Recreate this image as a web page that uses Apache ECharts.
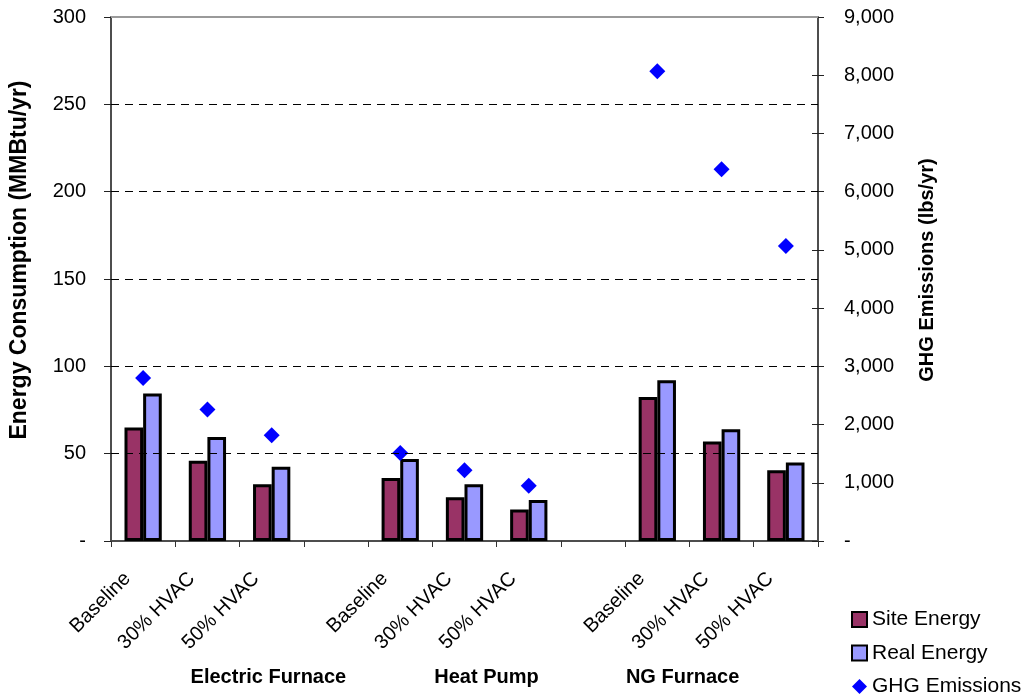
<!DOCTYPE html>
<html>
<head>
<meta charset="utf-8">
<script src="https://cdn.jsdelivr.net/npm/echarts@6/dist/echarts.min.js"></script>
<style>
  html, body { margin: 0; padding: 0; background: #fff; }
  #chart { width: 1029px; height: 700px; }
</style>
</head>
<body>
<div id="chart"></div>
<script>
// Scenario labels along the category axis (empty slots separate the three systems)
const categories = ['Baseline', '30% HVAC', '50% HVAC', '',
                    'Baseline', '30% HVAC', '50% HVAC', '',
                    'Baseline', '30% HVAC', '50% HVAC'];
const groupNames = ['Electric Furnace', 'Heat Pump', 'NG Furnace'];

// Energy consumption, MMBtu/yr
const siteEnergy = [65, 46, 32.5, null, 36, 25, 18, null, 82.5, 57, 40.5];
const realEnergy = [84.5, 59.5, 42.5, null, 47, 32.5, 23.5, null, 92, 64, 45];
// Greenhouse gas emissions, lbs/yr
const ghgEmissions = [2800, 2260, 1815, null, 1510, 1215, 950, null, 8070, 6385, 5065];

// Axis ranges
const energyAxis = { min: 0, max: 300, interval: 50 };
const ghgAxis = { min: 0, max: 9000, interval: 1000 };
const energyGridValues = [50, 100, 150, 200, 250];

const FONT = '"Liberation Sans", Arial, sans-serif';
const FS = 20;

const chart = echarts.init(document.getElementById('chart'), null, { renderer: 'canvas' });

const option = {
  backgroundColor: '#ffffff',
  animation: false,
  textStyle: { fontFamily: FONT, color: '#000' },
  grid: { left: 110, right: 211, top: 17, bottom: 159, containLabel: false },
  legend: {
    orient: 'vertical',
    left: 851,
    top: 609,
    padding: 0,
    height: 120,
    itemWidth: 15,
    itemHeight: 15,
    itemGap: 12.5,
    textStyle: { fontFamily: FONT, fontSize: 21, color: '#000' },
    data: [
      { name: 'Site Energy', icon: 'rect' },
      { name: 'Real Energy', icon: 'rect' },
      { name: 'GHG Emissions', icon: 'diamond' }
    ]
  },
  xAxis: [{
    type: 'category',
    data: categories,
    boundaryGap: true,
    axisLine: { lineStyle: { color: '#4d4d4d', width: 2 } },
    axisTick: { show: true, length: 6, lineStyle: { color: '#333', width: 1 } },
    axisLabel: {
      rotate: 45,
      margin: 19,
      padding: [0, 22, 0, 0],
      interval: 0,
      fontFamily: FONT,
      fontSize: FS,
      color: '#000'
    },
    splitLine: { show: false }
  }],
  yAxis: [{
    type: 'value',
    position: 'left',
    min: energyAxis.min,
    max: energyAxis.max,
    interval: energyAxis.interval,
    name: 'Energy Consumption (MMBtu/yr)',
    nameLocation: 'middle',
    nameRotate: 90,
    nameGap: 80,
    nameTextStyle: {
      fontFamily: FONT, fontSize: 23, fontWeight: 'bold', color: '#000',
      padding: [0, 0, 0, 38]
    },
    axisLine: { show: true, lineStyle: { color: '#4d4d4d', width: 2 } },
    axisTick: { show: true, length: 7, lineStyle: { color: '#222', width: 1 } },
    axisLabel: {
      margin: 25,
      fontFamily: FONT,
      fontSize: FS,
      color: '#000',
      formatter: v => (v === 0 ? '-' : String(v))
    },
    splitLine: { show: false }
  }, {
    type: 'value',
    position: 'right',
    min: ghgAxis.min,
    max: ghgAxis.max,
    interval: ghgAxis.interval,
    name: 'GHG Emissions (lbs/yr)',
    nameLocation: 'middle',
    nameRotate: 90,
    nameGap: 99,
    nameTextStyle: {
      fontFamily: FONT, fontSize: FS, fontWeight: 'bold', color: '#000',
      padding: [0, 0, 0, 18]
    },
    axisLine: { show: true, lineStyle: { color: '#4d4d4d', width: 2 } },
    axisTick: { show: true, length: 6, lineStyle: { color: '#222', width: 1 } },
    axisLabel: {
      margin: 26,
      fontFamily: FONT,
      fontSize: FS,
      color: '#000',
      formatter: v => (v === 0 ? '-' : v.toLocaleString('en-US'))
    },
    splitLine: { show: false }
  }, {
    // inner half of the right-hand tick marks
    type: 'value',
    position: 'right',
    min: ghgAxis.min,
    max: ghgAxis.max,
    interval: ghgAxis.interval,
    axisLine: { show: false },
    axisTick: { show: true, inside: true, length: 6, lineStyle: { color: '#222', width: 1 } },
    axisLabel: { show: false },
    splitLine: { show: false }
  }],
  series: [{
    name: 'Site Energy',
    type: 'bar',
    xAxisIndex: 0,
    yAxisIndex: 0,
    data: siteEnergy,
    barGap: '0%',
    barCategoryGap: '42%',
    itemStyle: { color: '#993366', borderColor: '#000', borderWidth: 3 },
    z: 3,
    markLine: {
      silent: true,
      symbol: 'none',
      label: { show: false },
      lineStyle: { color: '#000', type: [8, 6], width: 1 },
      data: energyGridValues.map(v => ({ yAxis: v }))
    }
  }, {
    name: 'Real Energy',
    type: 'bar',
    xAxisIndex: 0,
    yAxisIndex: 0,
    data: realEnergy,
    itemStyle: { color: '#9999ff', borderColor: '#000', borderWidth: 3 },
    z: 3,
    markLine: {
      silent: true,
      symbol: 'none',
      label: { show: false },
      lineStyle: { color: '#9a9a9a', type: 'solid', width: 2 },
      data: [{ yAxis: energyAxis.max }]
    }
  }, {
    name: 'GHG Emissions',
    type: 'scatter',
    xAxisIndex: 0,
    yAxisIndex: 1,
    data: ghgEmissions,
    symbol: 'diamond',
    symbolSize: 16,
    itemStyle: { color: '#0000ff', opacity: 1 },
    z: 4
  }]
};

chart.setOption(option);

// System titles beneath the rotated scenario labels, offset from each group's middle slot
const groupOffsets = [61, 22, -39];
const xAxisObj = chart.getModel().getComponent('xAxis', 0).axis;
chart.setOption({
  graphic: groupNames.map((name, i) => ({
    type: 'text',
    x: xAxisObj.toGlobalCoord(xAxisObj.dataToCoord(i * 4 + 1)) + groupOffsets[i],
    y: 677,
    style: {
      text: name,
      fill: '#000',
      font: 'bold ' + FS + 'px ' + FONT,
      align: 'center',
      verticalAlign: 'middle'
    }
  }))
});
</script>
</body>
</html>
